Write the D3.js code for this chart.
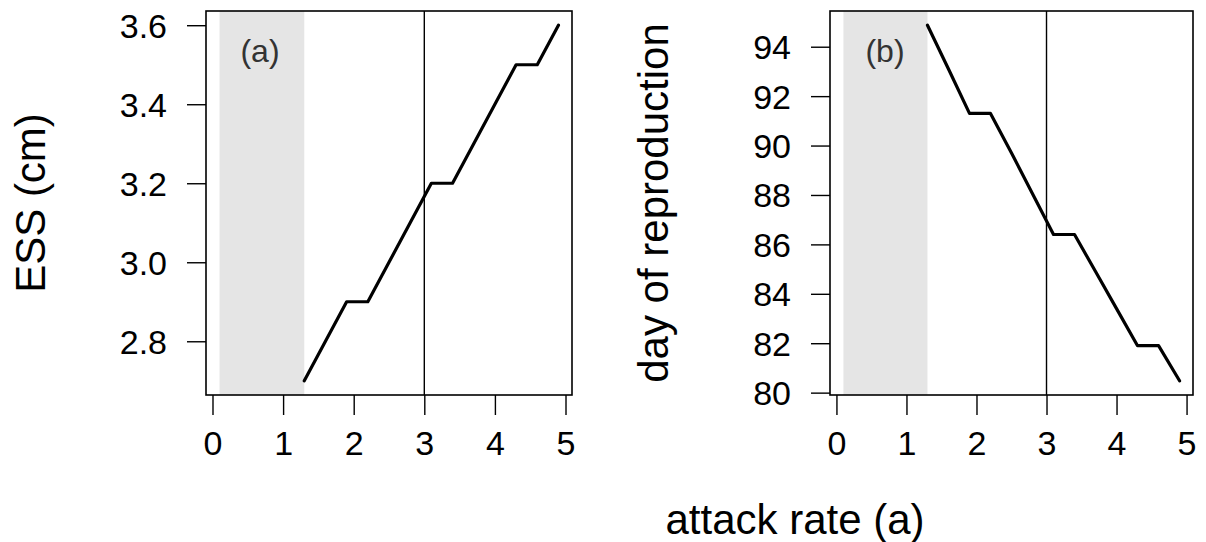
<!DOCTYPE html>
<html>
<head>
<meta charset="utf-8">
<script src="https://cdn.jsdelivr.net/npm/d3@7"></script>
<style>
  html, body { margin: 0; padding: 0; background: #fff; }
  text { font-family: "Liberation Sans", Arial, sans-serif; fill: #000; }
</style>
</head>
<body>
<svg id="chart" width="1206" height="542"></svg>
<script>
// ---- data ----
const attackRate = [0.1, 0.4, 0.7, 1.0, 1.3, 1.6, 1.9, 2.2, 2.5, 2.8, 3.1, 3.4, 3.7, 4.0, 4.3, 4.6, 4.9];
const essSize   = [null, null, null, null, 2.7, 2.8, 2.9, 2.9, 3.0, 3.1, 3.2, 3.2, 3.3, 3.4, 3.5, 3.5, 3.6];
const dayRepro  = [null, null, null, null, 94.87, 93.1, 91.3, 91.3, 89.7, 88.05, 86.4, 86.4, 84.9, 83.4, 81.9, 81.9, 80.48];
const shadedRange = [0.1, 1.3];
const refLineX = 3;
const xTicks = [0, 1, 2, 3, 4, 5];
const yTicksA = [2.8, 3.0, 3.2, 3.4, 3.6];
const yTicksB = [80, 82, 84, 86, 88, 90, 92, 94];
const panelLabels = ["(a)", "(b)"];
const yLabels = ["ESS (cm)", "day of reproduction"];
const xLabel = "attack rate (a)";

// R-style 4% padded domain
function rDomain(vals) {
  const ext = d3.extent(vals.filter(v => v != null));
  const pad = (ext[1] - ext[0]) * 0.04;
  return [ext[0] - pad, ext[1] + pad];
}

const svg = d3.select("#chart");
const TICK_FONT = 34, LABEL_FONT = 42;

const panels = [
  { left: 206, right: 572, top: 11, bottom: 395, y: essSize, yTicks: yTicksA,
    fmt: d3.format(".1f"), label: panelLabels[0], labelX: 260, yLab: yLabels[0], yLabX: 45 },
  { left: 830, right: 1193, top: 11, bottom: 395, y: dayRepro, yTicks: yTicksB,
    fmt: d3.format("d"), label: panelLabels[1], labelX: 885, yLab: yLabels[1], yLabX: 668 }
];

panels.forEach(p => {
  const x = d3.scaleLinear().domain(rDomain(attackRate)).range([p.left, p.right]);
  const y = d3.scaleLinear().domain(rDomain(p.y)).range([p.bottom, p.top]);
  const g = svg.append("g");

  // shaded region
  g.append("rect")
    .attr("x", x(shadedRange[0])).attr("y", p.top)
    .attr("width", x(shadedRange[1]) - x(shadedRange[0]))
    .attr("height", p.bottom - p.top)
    .attr("fill", "#e5e5e5");

  // vertical reference line
  g.append("line")
    .attr("x1", x(refLineX)).attr("x2", x(refLineX))
    .attr("y1", p.top).attr("y2", p.bottom)
    .attr("stroke", "#000").attr("stroke-width", 1.4);

  // data line
  const pts = attackRate.map((a, i) => [a, p.y[i]]);
  g.append("path")
    .datum(pts)
    .attr("d", d3.line().defined(d => d[1] != null).x(d => x(d[0])).y(d => y(d[1])))
    .attr("fill", "none").attr("stroke", "#000").attr("stroke-width", 3.2)
    .attr("stroke-linejoin", "round").attr("stroke-linecap", "round");

  // box
  g.append("rect")
    .attr("x", p.left).attr("y", p.top)
    .attr("width", p.right - p.left).attr("height", p.bottom - p.top)
    .attr("fill", "none").attr("stroke", "#000").attr("stroke-width", 1.6);

  // x axis
  const xa = svg.append("g").attr("transform", `translate(0,${p.bottom})`)
    .call(d3.axisBottom(x).tickValues(xTicks).tickSize(20).tickSizeOuter(0).tickFormat(d3.format("d")));
  xa.select(".domain").remove();
  xa.selectAll(".tick line").attr("stroke", "#000").attr("stroke-width", 1.4);
  xa.selectAll(".tick text").attr("y", 0).attr("dy", null)
    .attr("transform", "translate(0,60)")
    .style("font-size", TICK_FONT + "px").style("font-family", "Liberation Sans, Arial, sans-serif")
    .attr("fill", "#000");

  // y axis
  const ya = svg.append("g").attr("transform", `translate(${p.left},0)`)
    .call(d3.axisLeft(y).tickValues(p.yTicks).tickSize(19).tickSizeOuter(0).tickFormat(p.fmt));
  ya.select(".domain").remove();
  ya.selectAll(".tick line").attr("stroke", "#000").attr("stroke-width", 1.4);
  ya.selectAll(".tick text").attr("x", -39).attr("dy", "0.35em")
    .style("font-size", TICK_FONT + "px").style("font-family", "Liberation Sans, Arial, sans-serif")
    .attr("fill", "#000");

  // panel label
  svg.append("text").attr("x", p.labelX).attr("y", 62)
    .attr("text-anchor", "middle").style("font-size", "32px").style("fill", "#333")
    .text(p.label);

  // y label
  svg.append("text")
    .attr("transform", `translate(${p.yLabX},${(p.top + p.bottom) / 2}) rotate(-90)`)
    .attr("text-anchor", "middle").style("font-size", LABEL_FONT + "px")
    .text(p.yLab);
});

// x label
svg.append("text").attr("x", 795).attr("y", 534)
  .attr("text-anchor", "middle").style("font-size", LABEL_FONT + "px")
  .text(xLabel);
</script>
</body>
</html>
